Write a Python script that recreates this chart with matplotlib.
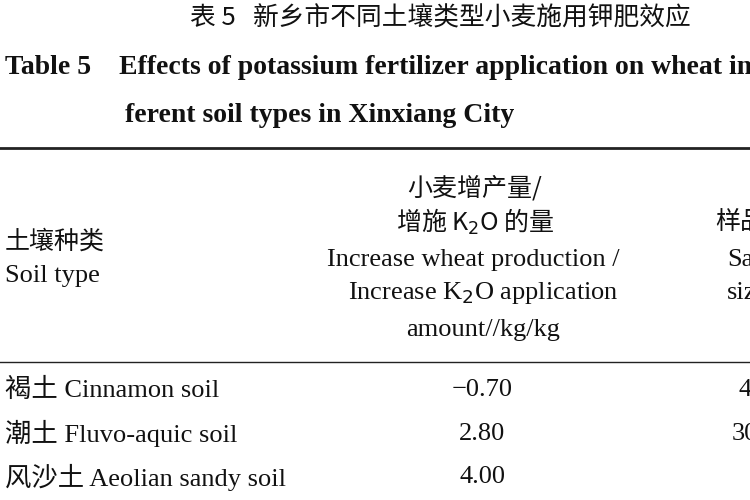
import matplotlib
matplotlib.use("Agg")
import matplotlib.pyplot as plt

title_cn = "表 5   新乡市不同土壤类型小麦施用钾肥效应"
title_en1 = "Table 5    Effects of potassium fertilizer application on wheat in dif-"
title_en2 = "ferent soil types in Xinxiang City"
soil_types = ["褐土 Cinnamon soil", "潮土 Fluvo-aquic soil", "风沙土 Aeolian sandy soil"]
values = ["−0.70", "2.80", "4.00"]
sample_sizes = ["4", "30", ""]

W, H = 750, 500
fig = plt.figure(figsize=(W/100, H/100), dpi=100)
ax = fig.add_axes([0, 0, 1, 1])
ax.set_xlim(0, W); ax.set_ylim(H, 0); ax.axis("off")
fam = ["Liberation Serif", "Noto Sans CJK SC", "DejaVu Sans"]
cj = ["Noto Sans CJK SC", "Liberation Serif", "DejaVu Sans"]
fs = 19

def t(x, y, s, ha="left", fam_=fam, **kw):
    ax.text(x, y, s, ha=ha, va="center", fontsize=kw.pop("size", fs), family=fam_, color="#111111", **kw)

t(440, 18, title_cn, ha="center", fam_=cj, size=18.5)
t(5, 68, title_en1, weight="bold", size=20)
t(125, 116, title_en2, weight="bold", size=20)
ax.plot([0, W], [148, 148], color="#222222", lw=2)
t(475, 188, "小麦增产量/", ha="center", fam_=cj, size=18)
t(475, 222, "增施 K$_2$O 的量", ha="center", fam_=cj, size=18)
t(473, 260, "Increase wheat production /", ha="center")
t(483, 293, "Increase K$_2$O application", ha="center")
t(483, 330, "amount//kg/kg", ha="center")
t(5, 242, "土壤种类", fam_=cj, size=18)
t(5, 276, "Soil type")
t(715, 222, "样品", fam_=cj, size=18)
t(727, 260, "Sample")
t(727, 293, "size")
ax.plot([0, W], [362, 362], color="#222222", lw=1)
for i, (s, v, n) in enumerate(zip(soil_types, values, sample_sizes)):
    y = 390 + i * 43.5
    t(5, y, s)
    t(482, y, v, ha="center")
    if n:
        t(745, y, n, ha="center")
fig.savefig("out.png", dpi=100)
